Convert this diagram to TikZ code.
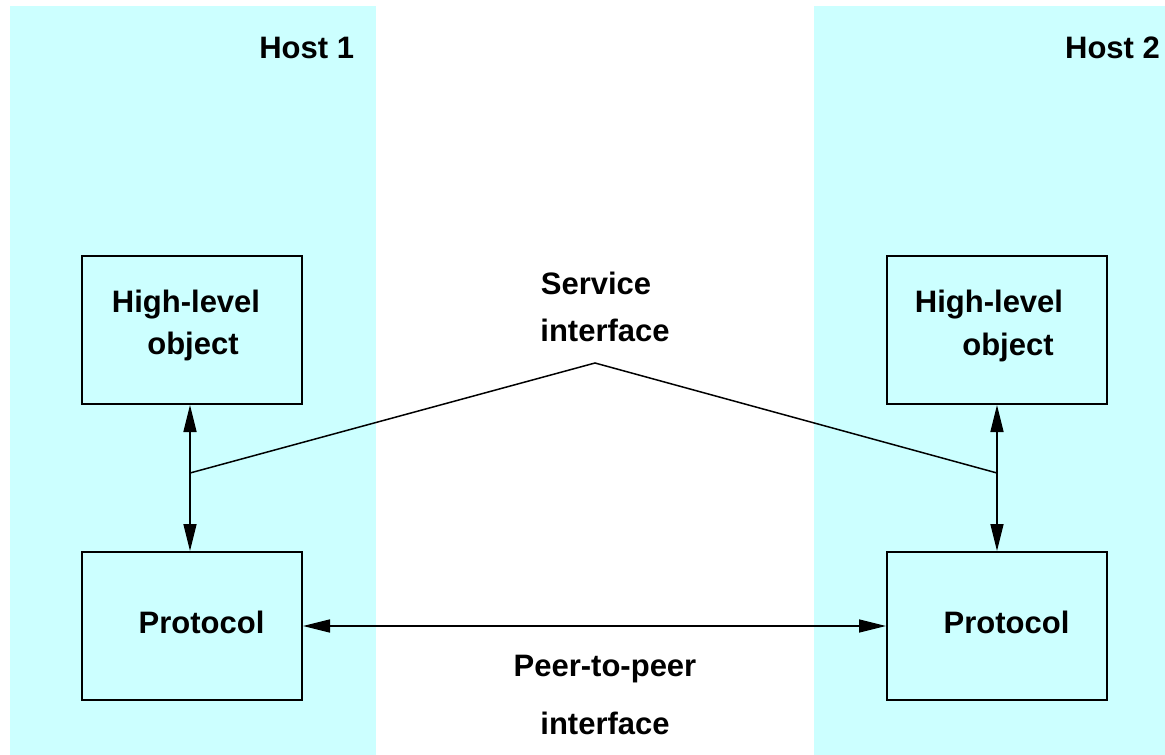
\documentclass[tikz,border=0pt]{standalone}
\usepackage{fontspec}
\setmainfont{Liberation Sans}
\usetikzlibrary{arrows.meta}
\definecolor{hostbg}{HTML}{CCFFFF}
\begin{document}
\begin{tikzpicture}[x=1pt,y=-1pt,
  lbl/.style={font=\fontsize{31}{47}\selectfont\bfseries, inner sep=0pt, anchor=base},
  box/.style={draw=black, line width=2pt, minimum width=220pt, minimum height=148pt, inner sep=0pt},
  conn/.style={line width=1.5pt, -{Triangle[length=27pt,width=13pt]}},
  both/.style={line width=1.5pt, {Triangle[length=27pt,width=13pt]}-{Triangle[length=27pt,width=13pt]}},
  plain/.style={line width=1.5pt}]
\useasboundingbox (0,0) rectangle (1165,755);
\fill[hostbg] (10,6) rectangle (376,755);
\fill[hostbg] (814,6) rectangle (1165,755);
\node[lbl] (h1) at (306.7,58) {Host 1};
\node[lbl] (h2) at (1112.5,58) {Host 2};
% boxes
\node[box] (hl1) at (192,330) {};
\node[box] (hl2) at (997,330) {};
\node[box, minimum height=148pt] (pr1) at (192,626) {};
\node[box, minimum height=148pt] (pr2) at (997,626) {};
% texts
\node[lbl] (t1a) at (186,312) {High-level};
\node[lbl] (t1b) at (193,354) {object};
\node[lbl] (t2a) at (989,312) {High-level};
\node[lbl] (t2b) at (1008,355) {object};
\node[lbl] (p1) at (201.5,633) {Protocol};
\node[lbl] (p2) at (1006.5,633) {Protocol};
\node[lbl] (s1) at (596,294) {Service};
\node[lbl] (s2) at (605,341) {interface};
\node[lbl] (q1) at (605,676) {Peer-to-peer};
\node[lbl] (q2) at (605,734) {interface};
% connectors
\coordinate (j1) at (190,473);
\coordinate (j2) at (997,473);
\coordinate (apex) at (595,363);
\draw[both] (hl1.south -| j1) -- (pr1.north -| j1);
\draw[both] (hl2.south -| j2) -- (pr2.north -| j2);
\draw[plain] (j1) -- (apex) -- (j2);
\draw[both] (pr1.east) -- (pr2.west);
\end{tikzpicture}
\end{document}
